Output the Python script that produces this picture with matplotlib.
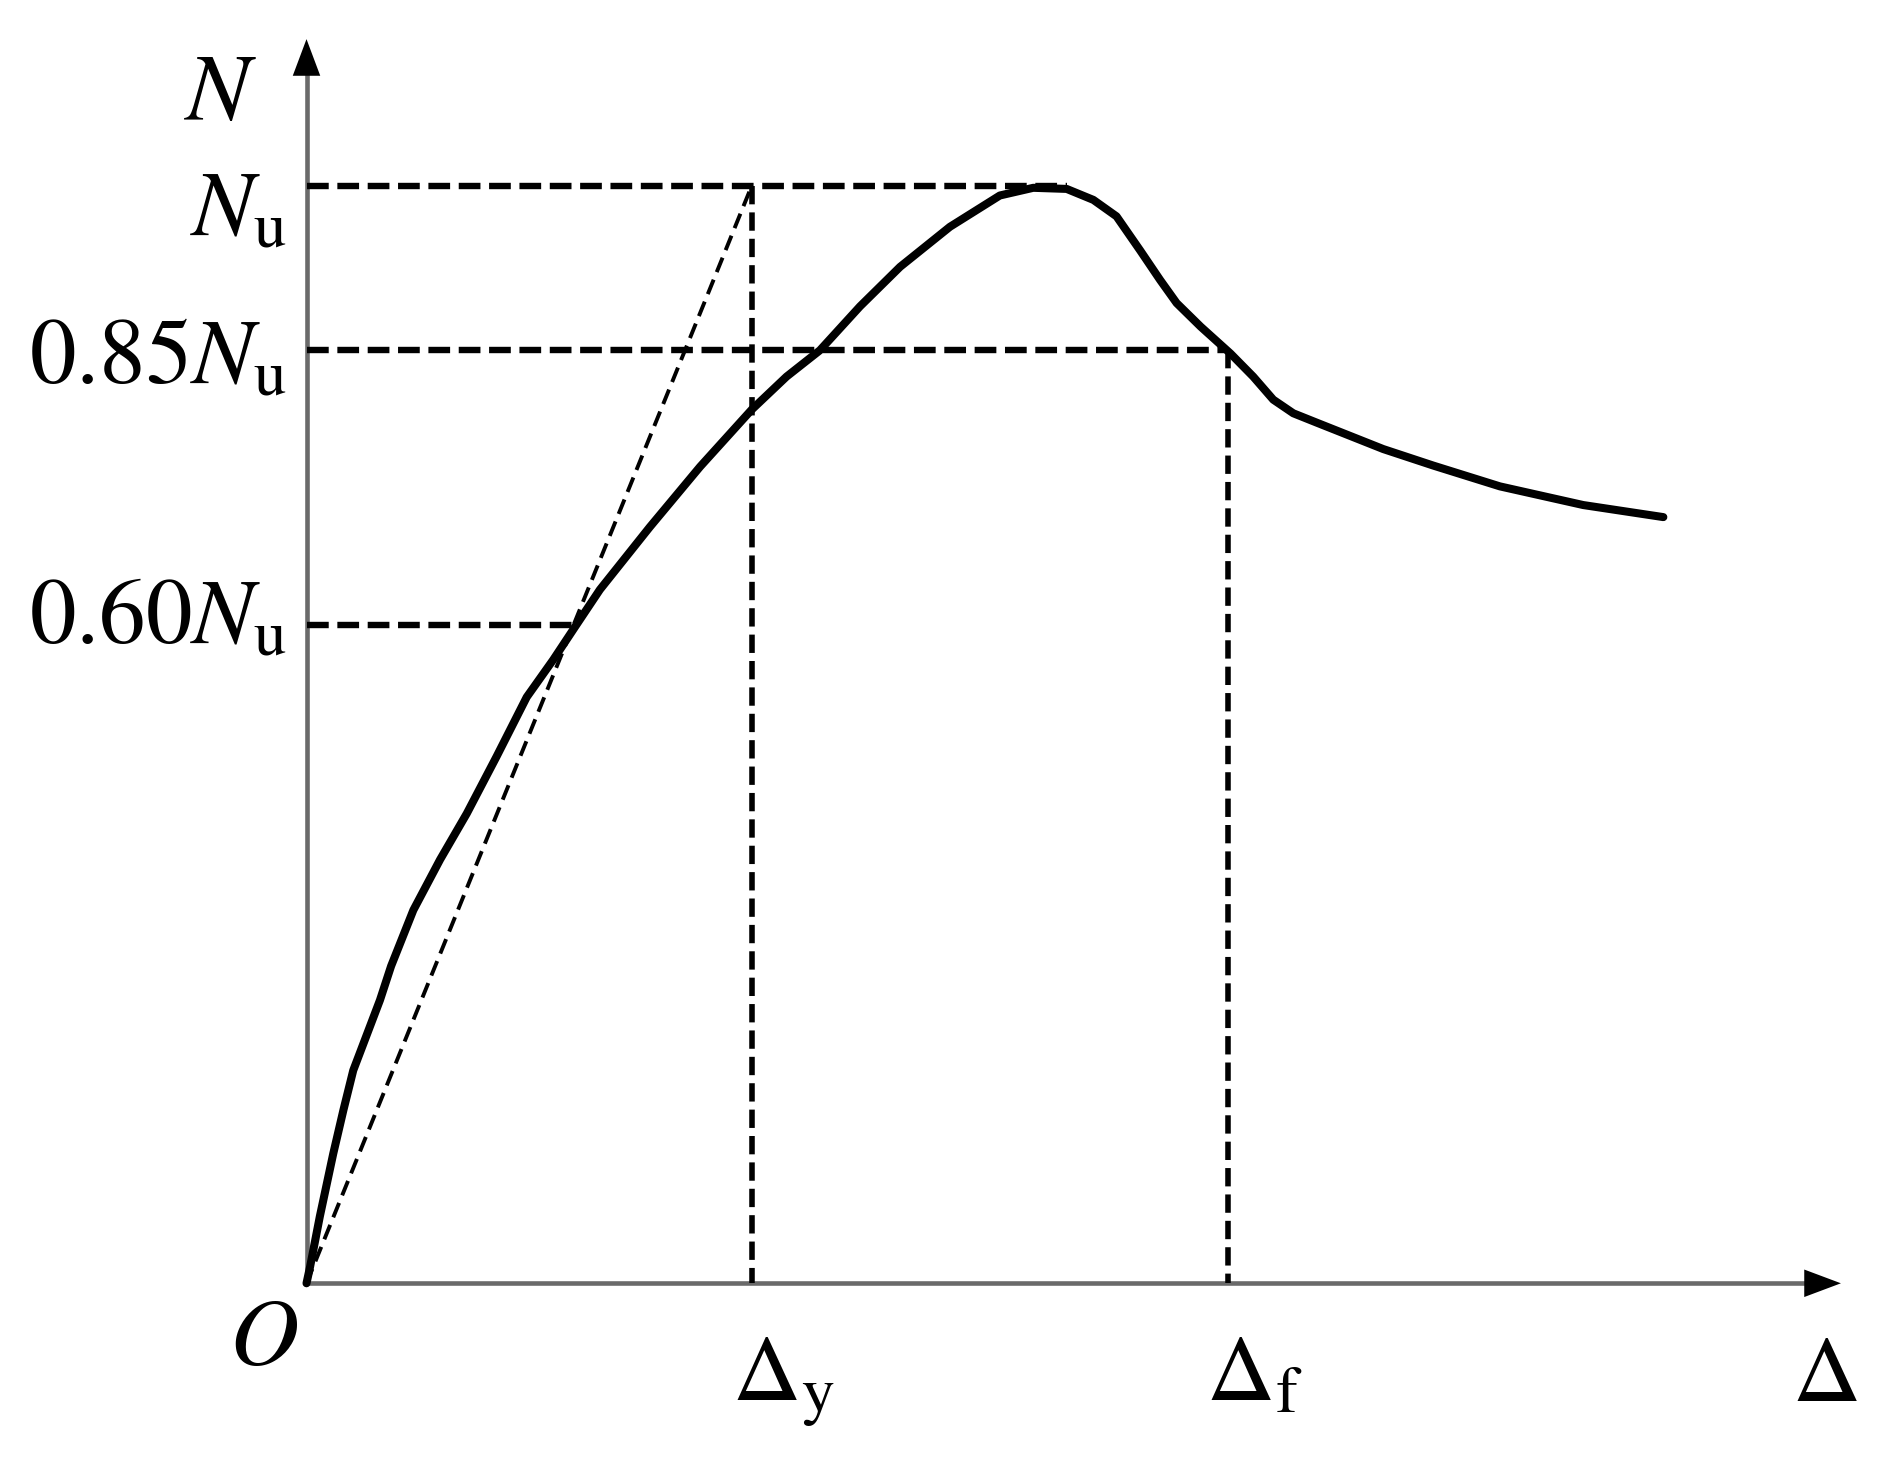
import matplotlib
matplotlib.use("Agg")
import matplotlib.pyplot as plt

plt.rcParams['font.family'] = ['STIXGeneral', 'DejaVu Serif']
plt.rcParams['mathtext.fontset'] = 'stix'

# Load-displacement curve (Δ normalised by Δy, N normalised by Nu)
disp = [0.0, 0.008, 0.030, 0.060, 0.083, 0.105, 0.135, 0.165, 0.190, 0.240,
        0.300, 0.360, 0.427, 0.4945, 0.554, 0.603, 0.659, 0.771, 0.884, 1.000,
        1.078, 1.153, 1.243, 1.333, 1.445, 1.557, 1.632, 1.707, 1.767, 1.819,
        1.872, 1.917, 1.954, 2.008, 2.075, 2.126, 2.171, 2.216, 2.269, 2.418,
        2.530, 2.680, 2.867, 3.047]
load = [0.0, 0.015, 0.061, 0.118, 0.158, 0.194, 0.226, 0.258, 0.289, 0.340,
        0.386, 0.428, 0.480, 0.534, 0.568, 0.598, 0.632, 0.689, 0.744, 0.796,
        0.826, 0.850, 0.890, 0.926, 0.9625, 0.991, 0.998, 0.997, 0.987, 0.972,
        0.941, 0.914, 0.893, 0.8715, 0.847, 0.826, 0.805, 0.7926, 0.784, 0.760,
        0.745, 0.726, 0.709, 0.698]

# Reference levels and their horizontal extents
levels = [1.0, 0.85, 0.60]
level_ends = [1.707, 2.070, 0.600]
level_labels = [r'$N_{\mathrm{u}}$', r'$0.85N_{\mathrm{u}}$', r'$0.60N_{\mathrm{u}}$']
level_baselines = [0.955, 0.820, 0.583]

delta_y = 1.0
delta_f = 2.070
x_axis_end = 3.452
y_axis_end = 1.136

x_labels = [r'$\Delta_{\mathrm{y}}$', r'$\Delta_{\mathrm{f}}$', r'$\Delta$']
x_label_pos = [0.955, 2.020, 3.335]

fig = plt.figure(figsize=(18.77, 14.79), dpi=100)
ax = fig.add_axes([0, 0, 1, 1])
ax.set_xlim(-0.6883, 3.5268)
ax.set_ylim(-0.1783, 1.1691)
ax.axis('off')

FS = 67
axis_col = '#6a6a6a'

# axes lines
ax.plot([0, x_axis_end - 0.05], [0, 0], color=axis_col, lw=3.3, solid_capstyle='butt', zorder=2)
ax.plot([0, 0], [0, y_axis_end - 0.03], color=axis_col, lw=3.3, solid_capstyle='butt', zorder=2)
ax.annotate('', xy=(x_axis_end, 0), xytext=(x_axis_end - 0.08, 0),
            arrowprops=dict(arrowstyle='-|>,head_length=1.2,head_width=0.45',
                            color='black', lw=0, mutation_scale=22), zorder=3)
ax.annotate('', xy=(0, y_axis_end), xytext=(0, y_axis_end - 0.04),
            arrowprops=dict(arrowstyle='-|>,head_length=1.2,head_width=0.45',
                            color='black', lw=0, mutation_scale=22), zorder=3)

# horizontal reference lines
for lev, end in zip(levels, level_ends):
    ax.plot([0, end], [lev, lev], color='black', lw=4.6, dashes=(3.4, 1.35), zorder=2)
# vertical reference lines
ax.plot([delta_y, delta_y], [levels[0], 0], color='black', lw=4.0, dashes=(3.3, 1.45), zorder=2)
ax.plot([delta_f, delta_f], [levels[1], 0], color='black', lw=4.0, dashes=(3.3, 1.45), zorder=2)
# secant line
ax.plot([0, delta_y], [0, levels[0]], color='black', lw=2.8, dashes=(4.0, 2.1), zorder=2)

# main curve
ax.plot(disp, load, color='black', lw=5.8, solid_joinstyle='round',
        solid_capstyle='round', zorder=4)

# level labels
for lab, yb in zip(level_labels, level_baselines):
    ax.text(-0.043, yb, lab, fontsize=FS, ha='right', va='baseline')
ax.text(-0.274, 1.060, r'$N$', fontsize=FS + 2, ha='left', va='baseline')
ax.text(-0.097, -0.074, r'$O$', fontsize=FS + 2, ha='center', va='baseline')
for lab, xp in zip(x_labels, x_label_pos):
    ax.text(xp, -0.107, lab, fontsize=FS + 1, ha='left', va='baseline')

fig.savefig('out.png', dpi=100)
